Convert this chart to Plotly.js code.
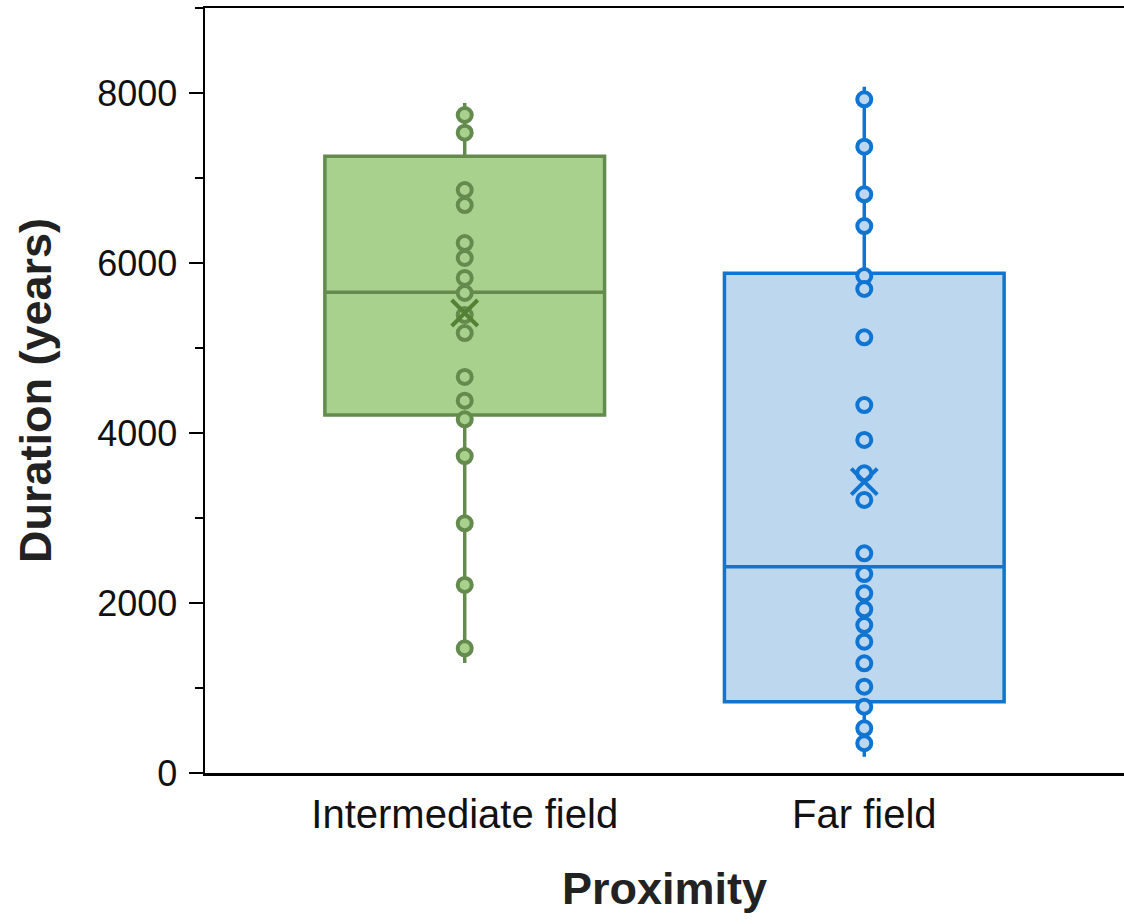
<!DOCTYPE html>
<html>
<head>
<meta charset="utf-8">
<script src="https://cdn.plot.ly/plotly-3.0.1.min.js"></script>
<style>html,body{margin:0;padding:0;background:#fff;}#chart{width:1124px;height:924px;}</style>
</head>
<body>
<div id="chart"></div>
<script>
const categories = ["Intermediate field", "Far field"];

// Box summary statistics
const q1Values = [4212, 839];
const medianValues = [5655, 2427];
const q3Values = [7255, 5879];
const lowerWhisker = [1294, 192];
const upperWhisker = [7882, 8074];
const meanValues = [5412, 3427];

// Individual observations
const intermediatePoints = [7741, 7533, 6859, 6682, 6235, 6059, 5824, 5647, 5388, 5176, 4659, 4380, 4161, 3729, 2938, 2212, 1467];
const farPoints = [7926, 7368, 6808, 6435, 5847, 5694, 5126, 4329, 3918, 3526, 3212, 2585, 2341, 2114, 1926, 1741, 1545, 1291, 1015, 780, 526, 350];

const greenLine = "#648a4e", greenFill = "#a9d18e", greenMean = "#548235";
const blueLine = "#0f74d2", blueFill = "#bdd7ee", blueMean = "#0f74d2";
const FONT = "Liberation Sans, Arial, sans-serif";

function boxTrace(i, line, fill) {
  return {
    type: "box",
    x: [categories[i]],
    q1: [q1Values[i]],
    median: [medianValues[i]],
    q3: [q3Values[i]],
    lowerfence: [lowerWhisker[i]],
    upperfence: [upperWhisker[i]],
    boxpoints: false,
    width: 0.7,
    whiskerwidth: 0,
    fillcolor: fill,
    line: {color: line, width: 3.5},
    hoverinfo: "skip",
    showlegend: false
  };
}
function pointTrace(i, vals, line, fill) {
  return {
    type: "scatter", mode: "markers",
    x: vals.map(() => categories[i]), y: vals,
    marker: {size: 14, color: fill, line: {color: line, width: 4}},
    showlegend: false, hoverinfo: "y"
  };
}
function meanTrace(i, color) {
  return {
    type: "scatter", mode: "markers",
    x: [categories[i]], y: [meanValues[i]],
    marker: {symbol: "x-thin-open", size: 26, color: color, line: {color: color, width: 4}},
    showlegend: false, hoverinfo: "y"
  };
}

const data = [
  boxTrace(0, greenLine, greenFill),
  boxTrace(1, blueLine, blueFill),
  pointTrace(0, intermediatePoints, greenLine, greenFill),
  pointTrace(1, farPoints, blueLine, blueFill),
  meanTrace(0, greenMean),
  meanTrace(1, blueMean)
];

const layout = {
  width: 1124, height: 924,
  margin: {l: 205, r: 0, t: 8, b: 151},
  paper_bgcolor: "#fff", plot_bgcolor: "#fff",
  showlegend: false,
  boxmode: "overlay",
  font: {family: FONT, color: "#000"},
  xaxis: {
    type: "category",
    range: [-0.65, 1.65],
    showgrid: false, zeroline: false,
    showline: true, linecolor: "#000", linewidth: 2.5, mirror: true,
    ticks: "",
    tickfont: {size: 40, family: FONT, color: "#111"},
    ticklabelstandoff: 4,
    title: {text: "Proximity", font: {size: 45, family: FONT, weight: "bold", color: "#222"}, standoff: 38}
  },
  yaxis: {
    range: [0, 9000],
    tickvals: [0, 2000, 4000, 6000, 8000],
    ticktext: ["0", "2000", "4000", "6000", "8000"],
    showgrid: false, zeroline: false,
    showline: true, linecolor: "#000", linewidth: 2.5,
    ticks: "outside", ticklen: 14, tickwidth: 2.5, tickcolor: "#000",
    minor: {tickvals: [1000, 3000, 5000, 7000, 9000], ticks: "outside", ticklen: 8, tickwidth: 2, tickcolor: "#000", showgrid: false},
    tickfont: {size: 36, family: FONT, color: "#111"},
    ticklabelstandoff: 4,
    title: {text: "Duration (years)", font: {size: 45, family: FONT, weight: "bold", color: "#222"}, standoff: 32}
  }
};

Plotly.newPlot("chart", data, layout, {displayModeBar: false, staticPlot: true});
</script>
</body>
</html>
